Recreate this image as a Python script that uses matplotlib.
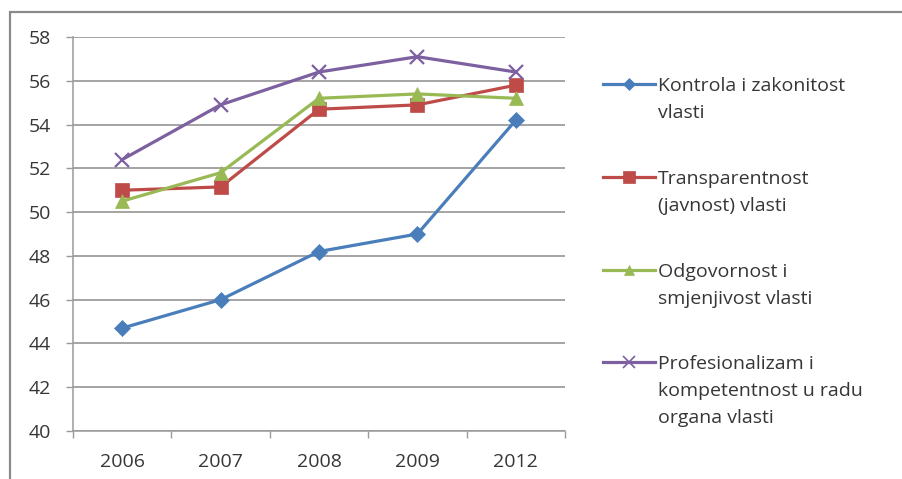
import matplotlib
matplotlib.use("Agg")
import matplotlib.pyplot as plt
from matplotlib.lines import Line2D
from matplotlib.patches import Rectangle

years = ["2006", "2007", "2008", "2009", "2012"]
kontrola = [44.7, 46.0, 48.2, 49.0, 54.2]
transparentnost = [51.0, 51.15, 54.7, 54.9, 55.8]
odgovornost = [50.5, 51.8, 55.2, 55.4, 55.2]
profesionalizam = [52.4, 54.9, 56.4, 57.1, 56.4]

labels = [
    "Kontrola i zakonitost\nvlasti",
    "Transparentnost\n(javnost) vlasti",
    "Odgovornost i\nsmjenjivost vlasti",
    "Profesionalizam i\nkompetentnost u radu\norgana vlasti",
]
series = [kontrola, transparentnost, odgovornost, profesionalizam]
colors = ["#4A7EBB", "#BE4B48", "#98B954", "#7D60A0"]
markers = ["D", "s", "^", "x"]
msizes = [8, 9.5, 9.5, 10]
legend_msizes = [6, 9, 7.5, 8]

plt.rcParams["font.family"] = ["Open Sans", "DejaVu Sans"]
TXT = "#363636"
W, H = 903, 479
fig = plt.figure(figsize=(W / 100, H / 100), dpi=100)
fig.patch.set_facecolor("white")

# outer chart frame (top and left edges visible)
fig.add_artist(Rectangle((10 / W, -0.1), 1.2, 1.1 - 12 / H,
                         transform=fig.transFigure, fill=False,
                         edgecolor="#8a8a8a", linewidth=1.6))

left, right, top, bottom = 73, 565, 37, 431
ax = fig.add_axes([left / W, 1 - bottom / H, (right - left) / W, (bottom - top) / H])

x = list(range(len(years)))
for vals, c, m, ms in zip(series, colors, markers, msizes):
    ax.plot(x, vals, color=c, linewidth=2.3, marker=m, markersize=ms,
            markeredgewidth=1.6 if m == "x" else 0.5, markeredgecolor=c,
            markerfacecolor=c, clip_on=False, zorder=3)

ax.set_xlim(-0.5, len(years) - 0.5)
ax.set_ylim(40, 58)
ax.set_yticks(range(40, 59, 2))
ax.set_xticks(x)
ax.set_xticklabels(years)
ax.set_xticks([i - 0.5 for i in range(len(years) + 1)], minor=True)
ax.tick_params(axis="x", which="major", length=0, pad=16, labelsize=14, labelcolor=TXT)
ax.tick_params(axis="x", which="minor", length=5, width=1, color="#9a9a9a")
ax.tick_params(axis="y", length=5, width=1, color="#9a9a9a", pad=11,
               labelsize=14, labelcolor=TXT)
ax.grid(axis="y", color="#8c8c8c", linewidth=1.1)
ax.set_axisbelow(True)
for s in ["top", "right"]:
    ax.spines[s].set_visible(False)
for s in ["left", "bottom"]:
    ax.spines[s].set_color("#9a9a9a")
    ax.spines[s].set_linewidth(1.1)

# legend drawn beside the plot: handle level with the first text line
entry_y = [84, 177, 270, 362]
line_gap = 27
for lab, c, m, ms, yy in zip(labels, colors, markers, legend_msizes, entry_y):
    yf = 1 - yy / H
    fig.add_artist(Line2D([603 / W, 655 / W], [yf, yf], transform=fig.transFigure,
                          color=c, linewidth=2.3))
    fig.add_artist(Line2D([629 / W], [yf], transform=fig.transFigure, color=c,
                          marker=m, markersize=ms, markerfacecolor=c,
                          markeredgecolor=c, markeredgewidth=1.2 if m == "x" else 0.5))
    n_lines = lab.count("\n")
    last_base = yy + 7 + n_lines * line_gap
    fig.text(658 / W, 1 - last_base / H, lab, ha="left", va="baseline", fontsize=14,
             color=TXT, linespacing=1.65)

fig.savefig("out.png", dpi=100)
